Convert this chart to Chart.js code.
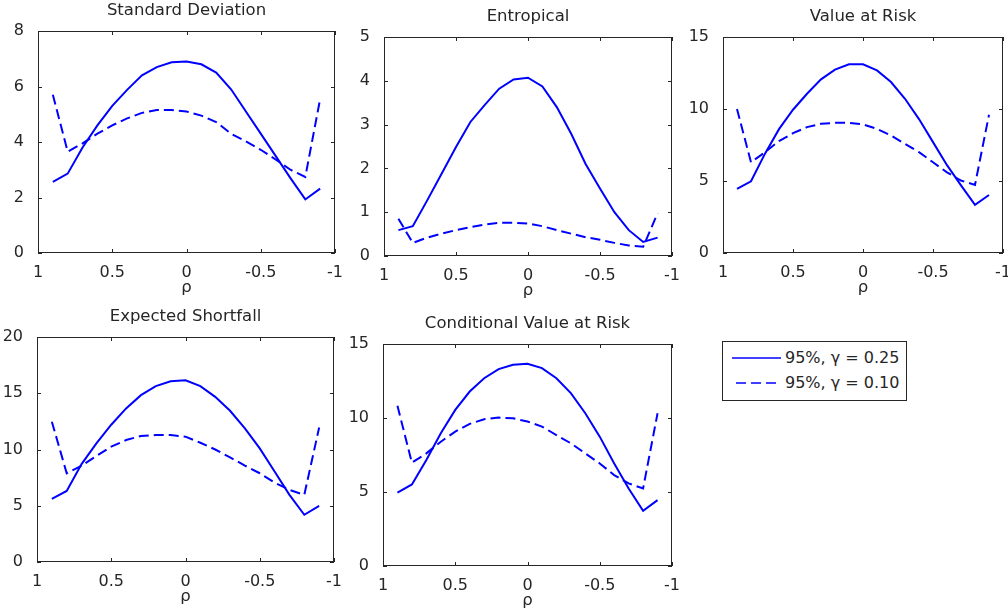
<!DOCTYPE html>
<html>
<head>
<meta charset="utf-8">
<script src="https://cdn.jsdelivr.net/npm/chart.js@4"></script>
<style>
  html, body { margin: 0; padding: 0; background: #fff; width: 1008px; height: 616px; overflow: hidden; }
  canvas { position: absolute; }
  #legend { position: absolute; left: 722px; top: 341px; width: 183px; height: 58px; border: 1px solid #262626; background: #fff;
            font-family: 'DejaVu Sans', sans-serif; font-size: 16px; color: #262626; }
  .row { position: absolute; left: 0; height: 20px; width: 183px; }
  .row svg { position: absolute; left: 9px; top: 0; }
  .row span { position: absolute; left: 62px; top: 0; line-height: 20px; white-space: nowrap; }
</style>
</head>
<body>
<div id="legend"></div>
<script>
// ---- data ----
const rho = [0.9, 0.8, 0.7, 0.6, 0.5, 0.4, 0.3, 0.2, 0.1, 0, -0.1, -0.2, -0.3, -0.4, -0.5, -0.6, -0.7, -0.8, -0.9];
const xTicks = [1, 0.5, 0, -0.5, -1];
const xTickLabels = ['1', '0.5', '0', '-0.5', '-1'];
const xAxisLabel = 'ρ';
const legendLabels = ['95%, γ = 0.25', '95%, γ = 0.10'];
const titles = ['Standard Deviation', 'Entropical', 'Value at Risk', 'Expected Shortfall', 'Conditional Value at Risk'];

const sdTicks = [0, 2, 4, 6, 8];
const entTicks = [0, 1, 2, 3, 4, 5];
const varTicks = [0, 5, 10, 15];
const esTicks = [0, 5, 10, 15, 20];
const cvarTicks = [0, 5, 10, 15];

const sd25 = [2.56, 2.86, 3.8, 4.6, 5.3, 5.88, 6.4, 6.7, 6.87, 6.9, 6.8, 6.5, 5.9, 5.1, 4.3, 3.5, 2.7, 1.93, 2.32];
const sd10 = [5.7, 3.65, 3.95, 4.3, 4.6, 4.85, 5.05, 5.15, 5.15, 5.1, 4.95, 4.72, 4.3, 4.02, 3.72, 3.37, 3.0, 2.74, 5.55];

const ent25 = [0.59, 0.68, 1.27, 1.88, 2.49, 3.06, 3.45, 3.82, 4.03, 4.07, 3.87, 3.4, 2.79, 2.1, 1.54, 1.0, 0.59, 0.32, 0.42];
const ent10 = [0.85, 0.3, 0.42, 0.51, 0.59, 0.66, 0.72, 0.76, 0.76, 0.74, 0.68, 0.59, 0.51, 0.43, 0.37, 0.3, 0.24, 0.21, 0.98];

const var25 = [4.45, 4.98, 6.9, 8.6, 9.95, 11.06, 12.06, 12.73, 13.1, 13.1, 12.68, 11.87, 10.71, 9.3, 7.7, 6.1, 4.7, 3.34, 4.03];
const var10 = [10.0, 6.3, 7.0, 7.77, 8.32, 8.74, 8.97, 9.04, 9.04, 8.93, 8.62, 8.16, 7.58, 7.0, 6.3, 5.6, 5.03, 4.73, 9.6];

const es25 = [5.61, 6.32, 8.7, 10.55, 12.2, 13.65, 14.83, 15.63, 16.07, 16.16, 15.63, 14.68, 13.44, 11.88, 10.1, 8.04, 5.97, 4.2, 4.99];
const es10 = [12.47, 7.89, 8.55, 9.42, 10.25, 10.84, 11.2, 11.28, 11.28, 11.14, 10.6, 10.0, 9.3, 8.57, 7.89, 7.06, 6.41, 5.97, 11.96];

const cvar25 = [4.95, 5.51, 7.16, 8.97, 10.55, 11.79, 12.69, 13.3, 13.6, 13.67, 13.37, 12.69, 11.68, 10.32, 8.74, 6.93, 5.24, 3.73, 4.45];
const cvar10 = [10.82, 6.98, 7.61, 8.4, 9.08, 9.6, 9.92, 10.03, 9.98, 9.76, 9.42, 8.85, 8.29, 7.61, 6.93, 6.14, 5.58, 5.24, 10.32];

// ---- style ----
const BLUE = '#0000ff';
const INK = '#262626';
const FONT = 'DejaVu Sans';
const dashPattern = [10, 5];

Chart.defaults.font.family = FONT;
Chart.defaults.font.size = 16;
Chart.defaults.color = INK;

const PADL = 45, PADT = 32, PADR = 15, PADB = 50;

const boxPlugin = {
  id: 'mbox',
  beforeDatasetsDraw(chart) {
    const { ctx, chartArea: a, scales: { x, y } } = chart;
    ctx.save();
    ctx.strokeStyle = INK;
    ctx.lineWidth = 1;
    ctx.strokeRect(a.left + 0.5, a.top + 0.5, a.right - a.left - 1, a.bottom - a.top - 1);
    const L = 4;
    ctx.beginPath();
    x.ticks.forEach(t => {
      const px = Math.round(x.getPixelForValue(t.value)) + 0.5;
      ctx.moveTo(px, a.bottom); ctx.lineTo(px, a.bottom - L);
      ctx.moveTo(px, a.top); ctx.lineTo(px, a.top + L);
    });
    y.ticks.forEach(t => {
      const py = Math.round(y.getPixelForValue(t.value)) + 0.5;
      ctx.moveTo(a.left, py); ctx.lineTo(a.left + L, py);
      ctx.moveTo(a.right, py); ctx.lineTo(a.right - L, py);
    });
    ctx.stroke();
    ctx.restore();
  },
  afterDraw(chart, args, opts) {
    const { ctx, chartArea: a } = chart;
    ctx.save();
    ctx.font = '16.5px "' + FONT + '"';
    ctx.fillStyle = INK;
    ctx.textAlign = 'center';
    ctx.textBaseline = 'middle';
    ctx.fillText(opts.title, (a.left + a.right) / 2, a.top - 20);
    ctx.restore();
  }
};

function makeChart(area, title, yTicks, solid, dashed) {
  const c = document.createElement('canvas');
  const w = area.r - area.l + PADL + PADR;
  const h = area.b - area.t + PADT + PADB;
  c.width = w; c.height = h;
  c.style.left = (area.l - PADL) + 'px';
  c.style.top = (area.t - PADT) + 'px';
  c.style.width = w + 'px'; c.style.height = h + 'px';
  document.body.appendChild(c);
  const pts = arr => rho.map((x, i) => ({ x: x, y: arr[i] }));
  new Chart(c, {
    type: 'line',
    data: {
      datasets: [
        { label: legendLabels[0], data: pts(solid), borderColor: BLUE, borderWidth: 2, pointRadius: 0, tension: 0, fill: false },
        { label: legendLabels[1], data: pts(dashed), borderColor: BLUE, borderWidth: 2, borderDash: dashPattern, pointRadius: 0, tension: 0, fill: false }
      ]
    },
    options: {
      responsive: false,
      animation: false,
      devicePixelRatio: 1,
      layout: { padding: { left: 0, top: PADT, right: PADR, bottom: 0 } },
      plugins: { legend: { display: false }, tooltip: { enabled: false }, mbox: { title: title } },
      scales: {
        x: {
          type: 'linear', reverse: true, min: -1, max: 1,
          grid: { display: false }, border: { display: false },
          afterBuildTicks: s => { s.ticks = xTicks.map(v => ({ value: v })); },
          afterFit: s => { s.height = PADB; },
          ticks: { padding: 2, maxRotation: 0, autoSkip: false, font: { lineHeight: 1.2 },
                   callback: v => xTickLabels[xTicks.indexOf(v)] },
          title: { display: true, text: xAxisLabel, padding: { top: 0, bottom: 5 }, font: { size: 16.5, lineHeight: 1.2 } }
        },
        y: {
          type: 'linear', min: yTicks[0], max: yTicks[yTicks.length - 1],
          grid: { display: false }, border: { display: false },
          afterBuildTicks: s => { s.ticks = yTicks.map(v => ({ value: v })); },
          afterFit: s => { s.width = PADL; },
          ticks: { padding: 6, autoSkip: false, callback: v => String(v) }
        }
      }
    },
    plugins: [boxPlugin]
  });
}

makeChart({ l: 38, t: 31, r: 335, b: 253 }, titles[0], sdTicks, sd25, sd10);
makeChart({ l: 384, t: 37, r: 672, b: 256 }, titles[1], entTicks, ent25, ent10);
makeChart({ l: 723, t: 37, r: 1003, b: 253 }, titles[2], varTicks, var25, var10);
makeChart({ l: 37, t: 337, r: 334, b: 562 }, titles[3], esTicks, es25, es10);
makeChart({ l: 383, t: 344, r: 672, b: 566 }, titles[4], cvarTicks, cvar25, cvar10);

// ---- legend ----
const lg = document.getElementById('legend');
const rowTops = [6, 31];
legendLabels.forEach((txt, i) => {
  const row = document.createElement('div');
  row.className = 'row';
  row.style.top = rowTops[i] + 'px';
  const x1 = i === 0 ? 0 : 4;
  row.innerHTML = '<svg width="50" height="20"><line x1="' + x1 + '" y1="10" x2="49" y2="10" stroke="' + BLUE +
    '" stroke-width="1.6"' + (i === 1 ? ' stroke-dasharray="' + dashPattern.join(',') + '"' : '') + '/></svg>';
  const sp = document.createElement('span');
  sp.textContent = txt;
  row.appendChild(sp);
  lg.appendChild(row);
});
</script>
</body>
</html>
